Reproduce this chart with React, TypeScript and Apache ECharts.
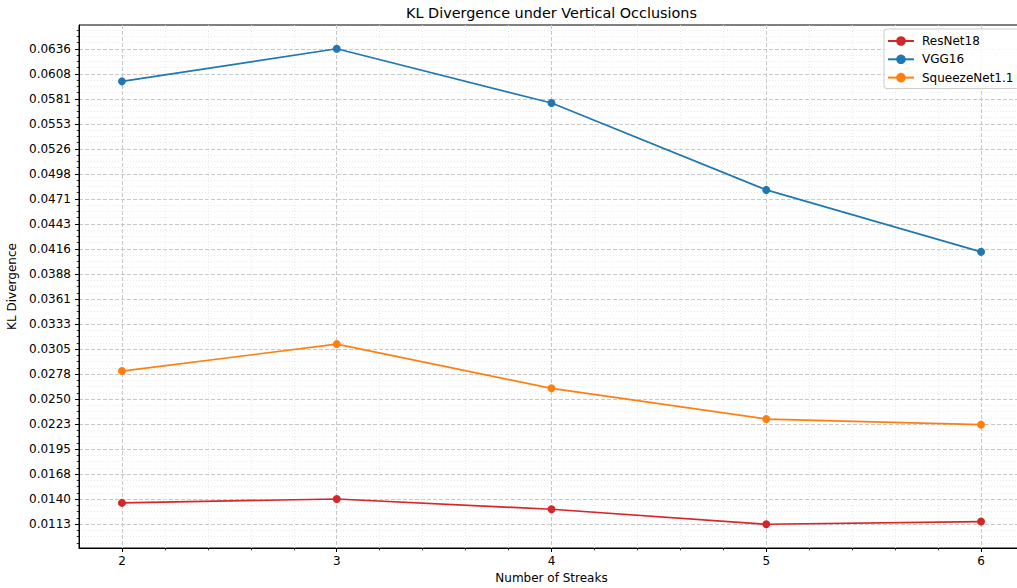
import React, { useEffect, useRef } from "react";
import * as echarts from "echarts";

const streaks = [2, 3, 4, 5, 6];
const resnet18 = [0.01363, 0.01406, 0.01293, 0.011284, 0.01158];
const vgg16 = [0.05999, 0.063572, 0.05761, 0.04805, 0.04124];
const squeezenet = [0.02813, 0.03109, 0.02623, 0.02285, 0.02224];

const seriesNames = ["ResNet18", "VGG16", "SqueezeNet1.1"];
const seriesColors = ["#d62728", "#1f77b4", "#ff7f0e"];

const yTickLabels = [
  "0.0113", "0.0140", "0.0168", "0.0195", "0.0223", "0.0250", "0.0278",
  "0.0305", "0.0333", "0.0361", "0.0388", "0.0416", "0.0443", "0.0471",
  "0.0498", "0.0526", "0.0553", "0.0581", "0.0608", "0.0636",
];
const xTickLabels = ["2", "3", "4", "5", "6"];

const FONT = "DejaVu Sans";

export default function App() {
  const ref = useRef<HTMLDivElement>(null);

  useEffect(() => {
    if (!ref.current) return;
    const chart = echarts.init(ref.current, undefined, { renderer: "svg" });

    const all = [...resnet18, ...vgg16, ...squeezenet];
    const dMin = Math.min(...all);
    const dMax = Math.max(...all);
    const n = yTickLabels.length - 1;
    const yStep = (dMax - dMin) / n;
    const yMajor = yTickLabels.map((_, i) => dMin + i * yStep);
    const yLo = dMin - 0.05 * (dMax - dMin);
    const yHi = dMax + 0.05 * (dMax - dMin);
    const yMinor: number[] = [];
    for (let k = -8; k < n * 4 + 8; k++) {
      if (k % 4 === 0) continue;
      const v = dMin + (k * yStep) / 4;
      if (v > yLo && v < yHi) yMinor.push(v);
    }

    const xMajor = xTickLabels.map(Number);
    const xLo = 1.8;
    const xHi = 6.2;
    const xMinor: number[] = [];
    for (let k = 0; k <= 22; k++) {
      const v = Math.round((1.8 + k * 0.2) * 10) / 10;
      if (k % 5 === 1) continue; // major positions (2,3,...)
      if (v > xLo && v < xHi) xMinor.push(v);
    }

    const yLabel = (v: number) => {
      let best = 0;
      let bd = Infinity;
      yMajor.forEach((t, i) => {
        const d = Math.abs(t - v);
        if (d < bd) {
          bd = d;
          best = i;
        }
      });
      return yTickLabels[best];
    };

    const dataSets = [resnet18, vgg16, squeezenet];

    chart.setOption({
      animation: false,
      backgroundColor: "#ffffff",
      textStyle: { fontFamily: FONT },
      grid: {
        left: 79,
        top: 25,
        width: 945,
        height: 523,
        show: true,
        borderColor: "#000000",
        borderWidth: 1,
        backgroundColor: "transparent",
        outerBoundsMode: "none",
        containLabel: false,
      },
      graphic: [
        {
          type: "text",
          x: 551.5,
          y: 13,
          style: {
            text: "KL Divergence under Vertical Occlusions",
            font: `14.4px "${FONT}"`,
            fill: "#000000",
            textAlign: "center",
            textVerticalAlign: "middle",
          },
        },
      ],
      legend: {
        show: true,
        orient: "vertical",
        left: 884,
        top: 29,
        data: seriesNames,
        itemWidth: 26,
        itemHeight: 12,
        itemGap: 6.3,
        padding: [6, 6, 5, 3],
        backgroundColor: "rgba(255,255,255,0.85)",
        borderColor: "#cccccc",
        borderWidth: 1,
        borderRadius: 3,
        textStyle: { fontFamily: FONT, fontSize: 12, color: "#000000", padding: [0, 0, 0, 3] },
      },
      xAxis: [
        {
          type: "value",
          gridIndex: 0,
          position: "bottom",
          min: xLo,
          max: xHi,
          name: "Number of Streaks",
          nameLocation: "middle",
          nameGap: 24,
          nameTextStyle: { fontFamily: FONT, fontSize: 12, color: "#000000" },
          axisLine: { show: true, onZero: false, lineStyle: { color: "#000000", width: 1 } },
          axisTick: { show: true, length: 4, customValues: xMajor, lineStyle: { color: "#000000", width: 1 } },
          axisLabel: {
            show: true,
            margin: 7,
            customValues: xMajor,
            fontFamily: FONT,
            fontSize: 12,
            color: "#000000",
            formatter: (v: number) => xTickLabels[xMajor.indexOf(Math.round(v))] ?? "",
          },
          splitLine: { show: true, lineStyle: { color: "#c8c8c8", width: 1, type: [4, 2] } },
          minorTick: { show: false },
          minorSplitLine: { show: false },
        },
        {
          type: "value",
          gridIndex: 0,
          position: "bottom",
          min: xLo,
          max: xHi,
          axisLine: { show: false, onZero: false },
          axisTick: { show: true, length: 2.3, customValues: xMinor, lineStyle: { color: "#000000", width: 0.8 } },
          axisLabel: { show: false },
          splitLine: { show: true, lineStyle: { color: "#e4e4e4", width: 0.8, type: [1, 2] } },
        },
      ],
      yAxis: [
        {
          type: "value",
          gridIndex: 0,
          position: "left",
          min: yLo,
          max: yHi,
          name: "KL Divergence",
          nameLocation: "middle",
          nameGap: 50,
          nameTextStyle: { fontFamily: FONT, fontSize: 12, color: "#000000" },
          axisLine: { show: true, onZero: false, lineStyle: { color: "#000000", width: 1 } },
          axisTick: { show: true, length: 4, customValues: yMajor, lineStyle: { color: "#000000", width: 1 } },
          axisLabel: {
            show: true,
            margin: 8,
            customValues: yMajor,
            fontFamily: FONT,
            fontSize: 12,
            color: "#000000",
            formatter: (v: number) => yLabel(v),
          },
          splitLine: { show: true, lineStyle: { color: "#c8c8c8", width: 1, type: [4, 2] } },
        },
        {
          type: "value",
          gridIndex: 0,
          position: "left",
          min: yLo,
          max: yHi,
          axisLine: { show: false, onZero: false },
          axisTick: { show: true, length: 2.3, customValues: yMinor, lineStyle: { color: "#000000", width: 0.8 } },
          axisLabel: { show: false },
          splitLine: { show: true, lineStyle: { color: "#e4e4e4", width: 0.8, type: [1, 2] } },
        },
      ],
      series: [
        ...dataSets.map((d, i) => ({
          name: seriesNames[i],
          type: "line",
          xAxisIndex: 0,
          yAxisIndex: 0,
          data: streaks.map((x, j) => [x, d[j]]),
          symbol: "circle",
          symbolSize: 8,
          showSymbol: true,
          color: seriesColors[i],
          lineStyle: { color: seriesColors[i], width: 1.7 },
          itemStyle: { color: seriesColors[i] },
          z: 3,
        })),
        {
          name: "_minor",
          type: "line",
          xAxisIndex: 1,
          yAxisIndex: 1,
          data: [],
          silent: true,
          showSymbol: false,
        },
      ],
    });

    return () => chart.dispose();
  }, []);

  return (
    <div
      ref={ref}
      style={{ position: "fixed", left: 0, top: 0, width: 1017, height: 588 }}
    />
  );
}
